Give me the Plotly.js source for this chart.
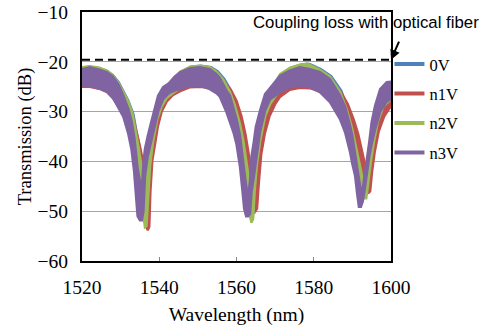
<!DOCTYPE html>
<html><head><meta charset="utf-8">
<script src="https://cdn.plot.ly/plotly-3.0.1.min.js"></script>
<style>html,body{margin:0;padding:0;background:#fff}#chart{width:490px;height:327px}</style>
</head><body><div id="chart"></div>
<script>
const seriesNames = ['0V', 'n1V', 'n2V', 'n3V'];

const wl_0V = [1520.0,1522.0,1524.5,1526.5,1528.0,1529.5,1530.7,1532.0,1533.3,1534.1,1534.9,1535.6,1536.2,1536.7,1537.0,1537.3,1537.9,1538.7,1539.8,1540.9,1542.3,1543.8,1545.7,1548.3,1550.8,1553.4,1555.1,1556.8,1558.6,1559.9,1561.2,1562.1,1562.8,1563.5,1564.2,1564.6,1565.0,1565.6,1566.4,1567.7,1569.0,1570.3,1571.6,1574.1,1576.7,1578.5,1579.3,1581.9,1584.5,1587.1,1588.8,1590.1,1591.0,1591.9,1592.7,1593.5,1594.0,1594.4,1595.1,1595.9,1596.9,1598.3,1600.0];
const hi_0V = [-21.2,-21.0,-21.3,-21.8,-22.7,-24.1,-25.8,-27.8,-30.5,-34.0,-37.0,-40.5,-43.5,-45.5,-43.5,-38.8,-34.8,-31.3,-28.3,-26.3,-24.6,-23.4,-22.0,-21.0,-20.8,-21.1,-21.9,-23.4,-25.8,-28.6,-32.3,-35.8,-39.8,-43.3,-45.5,-44.0,-38.8,-34.8,-31.3,-27.8,-25.6,-24.0,-22.5,-21.2,-20.6,-20.4,-20.6,-21.5,-22.9,-25.8,-29.3,-32.8,-35.8,-39.3,-42.3,-44.0,-43.5,-39.8,-35.8,-31.8,-28.3,-25.8,-25.0];
const lo_0V = [-24.0,-24.0,-24.4,-25.0,-26.2,-28.2,-29.7,-32.0,-35.3,-39.3,-43.3,-47.8,-51.5,-52.5,-52.3,-47.5,-40.8,-35.8,-31.3,-28.8,-27.0,-26.1,-25.1,-24.3,-24.1,-24.6,-25.3,-26.6,-28.8,-31.8,-36.3,-40.8,-45.8,-49.0,-50.3,-50.3,-45.8,-40.3,-35.8,-30.8,-28.3,-26.8,-25.6,-24.6,-24.1,-24.1,-24.3,-25.3,-27.0,-29.8,-33.3,-36.8,-39.8,-43.8,-45.5,-46.2,-46.2,-43.8,-39.8,-35.8,-31.8,-28.8,-27.5];

const wl_n1V = [1520.0,1522.0,1524.5,1526.5,1528.0,1529.5,1530.7,1532.0,1533.0,1533.7,1534.4,1535.0,1535.8,1536.6,1537.0,1537.4,1537.7,1538.2,1538.9,1539.6,1540.6,1541.9,1543.5,1545.4,1548.0,1550.5,1553.1,1555.0,1556.8,1558.5,1560.0,1561.3,1562.3,1563.2,1564.0,1564.8,1565.3,1565.8,1566.4,1567.3,1568.5,1570.0,1571.3,1573.8,1576.4,1579.0,1581.6,1584.2,1586.8,1588.8,1590.3,1591.5,1592.6,1593.5,1594.1,1594.6,1595.1,1595.8,1596.8,1598.2,1600.0];
const hi_n1V = [-22.8,-22.8,-23.0,-23.5,-24.3,-25.5,-26.8,-28.5,-30.5,-32.5,-35.0,-37.0,-40.0,-44.0,-46.5,-45.5,-40.0,-36.0,-33.0,-30.5,-28.0,-26.5,-25.0,-23.8,-23.0,-22.8,-22.8,-23.2,-24.0,-25.6,-27.8,-31.0,-34.5,-38.5,-42.5,-44.5,-42.0,-38.0,-34.5,-31.0,-28.0,-25.8,-24.5,-23.2,-22.6,-22.6,-23.0,-24.0,-25.8,-28.5,-31.5,-34.5,-38.0,-41.5,-43.5,-42.0,-38.0,-34.5,-31.0,-28.8,-27.2];
const lo_n1V = [-25.0,-25.0,-25.4,-26.1,-27.3,-29.0,-30.8,-33.5,-36.5,-39.0,-42.0,-45.0,-49.0,-53.0,-53.8,-53.1,-46.0,-39.8,-36.5,-33.1,-30.0,-28.0,-26.7,-25.9,-25.1,-25.0,-25.2,-25.8,-27.0,-28.8,-31.5,-35.0,-39.5,-44.0,-48.0,-50.1,-49.5,-44.0,-38.5,-34.5,-31.0,-28.5,-27.0,-25.6,-25.2,-25.3,-26.0,-27.5,-29.5,-32.5,-35.5,-38.5,-42.0,-45.0,-46.4,-46.0,-42.0,-38.0,-34.0,-31.0,-28.8];

const wl_n2V = [1520.0,1522.0,1524.5,1526.5,1528.0,1529.5,1530.7,1532.0,1533.1,1533.9,1534.6,1535.3,1535.9,1536.3,1536.7,1537.0,1537.6,1538.4,1539.5,1540.6,1542.0,1543.5,1545.4,1548.0,1550.5,1553.1,1554.8,1556.5,1558.3,1559.6,1560.9,1561.8,1562.5,1563.2,1563.9,1564.3,1564.7,1565.3,1566.1,1567.4,1568.7,1570.0,1571.3,1573.8,1576.4,1578.2,1579.0,1581.6,1584.2,1586.8,1588.5,1589.8,1590.7,1591.6,1592.4,1593.1,1593.6,1594.1,1594.8,1595.6,1596.6,1598.0,1600.0];
const hi_n2V = [-21.1,-20.9,-21.2,-21.8,-22.8,-24.3,-26.0,-28.0,-30.5,-34.0,-37.0,-40.5,-43.5,-46.0,-44.0,-39.0,-35.0,-31.5,-28.5,-26.5,-24.8,-23.5,-22.0,-21.0,-20.8,-21.1,-22.0,-23.5,-26.0,-28.8,-32.5,-36.0,-40.0,-43.5,-46.0,-44.0,-39.0,-35.0,-31.5,-28.0,-25.8,-24.2,-22.5,-21.2,-20.6,-20.4,-20.6,-21.6,-23.0,-26.0,-29.5,-33.0,-36.0,-39.5,-42.5,-44.5,-43.5,-40.0,-36.0,-32.0,-28.5,-26.0,-25.5];
const lo_n2V = [-24.0,-24.0,-24.5,-25.2,-26.5,-28.5,-30.0,-32.5,-35.5,-39.5,-43.5,-48.0,-52.0,-53.2,-53.0,-48.0,-41.0,-36.0,-31.5,-29.0,-27.2,-26.3,-25.3,-24.5,-24.3,-24.8,-25.5,-26.8,-29.0,-32.0,-36.5,-41.0,-46.0,-50.0,-52.3,-51.5,-46.0,-40.5,-36.0,-31.0,-28.5,-27.0,-25.8,-24.8,-24.3,-24.3,-24.5,-25.5,-27.2,-30.0,-33.5,-37.0,-40.0,-44.0,-46.5,-47.4,-47.4,-44.0,-40.0,-36.0,-32.0,-29.0,-27.5];

const wl_n3V = [1520.0,1522.0,1524.5,1526.5,1528.0,1529.5,1530.7,1532.0,1532.8,1533.5,1534.0,1534.4,1535.0,1535.5,1535.9,1536.3,1537.0,1537.8,1538.6,1539.7,1541.0,1542.5,1544.0,1545.4,1548.0,1550.5,1553.1,1554.8,1555.7,1557.4,1558.3,1559.2,1560.0,1560.9,1561.5,1562.0,1562.5,1563.0,1563.5,1563.9,1564.5,1565.0,1566.1,1567.4,1568.7,1570.0,1571.3,1573.8,1576.4,1579.0,1581.6,1584.2,1586.8,1588.1,1588.8,1589.4,1590.0,1590.7,1591.3,1591.7,1592.2,1592.7,1593.3,1593.9,1594.4,1595.0,1595.9,1597.2,1598.9,1600.0];
const hi_n3V = [-21.5,-21.1,-21.6,-22.1,-23.0,-24.7,-26.8,-29.5,-31.8,-35.0,-38.5,-41.5,-44.0,-45.5,-40.5,-37.5,-35.0,-32.5,-29.8,-26.8,-25.1,-24.3,-23.0,-22.1,-21.3,-21.1,-21.5,-22.5,-23.3,-25.8,-26.8,-29.0,-31.5,-34.8,-38.0,-41.5,-45.0,-47.0,-44.0,-39.0,-36.0,-33.1,-29.8,-26.5,-25.1,-24.0,-22.8,-21.8,-21.1,-21.5,-22.1,-23.5,-26.8,-29.0,-31.0,-32.8,-35.0,-38.1,-41.5,-43.5,-46.0,-45.5,-41.5,-38.8,-36.0,-32.1,-28.8,-25.5,-24.1,-24.0];
const lo_n3V = [-24.7,-24.8,-25.4,-26.0,-27.2,-29.3,-31.0,-34.5,-37.5,-42.0,-47.0,-51.0,-51.8,-51.8,-50.0,-43.0,-39.0,-36.5,-33.5,-30.0,-27.5,-26.3,-25.8,-25.5,-24.8,-24.8,-25.5,-26.3,-27.0,-30.1,-32.0,-34.1,-36.5,-41.0,-45.5,-49.5,-51.0,-51.0,-50.5,-46.0,-43.0,-39.8,-34.0,-29.8,-27.5,-26.8,-26.1,-25.1,-24.8,-25.1,-26.1,-28.1,-31.5,-34.1,-36.0,-38.1,-40.5,-42.8,-46.8,-49.1,-49.1,-48.0,-45.0,-41.5,-38.8,-36.5,-33.5,-30.0,-28.0,-27.5];

const couplingLoss = -19.6;
const couplingLabel = 'Coupling loss with optical fiber';
const xTickVals = [1520, 1540, 1560, 1580, 1600];
const yTickVals = [-60, -50, -40, -30, -20, -10];
const yTickText = ['\u221260', '\u221250', '\u221240', '\u221230', '\u221220', '\u221210'];
const xTitle = 'Wavelength (nm)';
const yTitle = 'Transmission (dB)';

// ---- styling ----
const colors = ['#4F81BD', '#C0504D', '#9BBB59', '#8064A2'];
const serif = 'Times New Roman';
const sans = 'Arial';

const bands = [
  [wl_0V, hi_0V, lo_0V],
  [wl_n1V, hi_n1V, lo_n1V],
  [wl_n2V, hi_n2V, lo_n2V],
  [wl_n3V, hi_n3V, lo_n3V]
];

const traces = [];
bands.forEach(function (b, i) {
  const wl = b[0], hi = b[1], lo = b[2];
  traces.push({
    x: wl.concat(wl.slice().reverse()),
    y: lo.concat(hi.slice().reverse()),
    type: 'scatter', mode: 'lines', fill: 'toself',
    fillcolor: colors[i],
    line: {color: colors[i], width: 2.5},
    hoverinfo: 'skip', showlegend: false
  });
});
// dashed coupling-loss level
traces.push({
  x: [xTickVals[0], xTickVals[xTickVals.length - 1]],
  y: [couplingLoss, couplingLoss],
  type: 'scatter', mode: 'lines',
  line: {color: '#000', width: 2, dash: '8px,5px'},
  showlegend: false, hoverinfo: 'skip'
});
// legend entries
seriesNames.forEach(function (n, i) {
  traces.push({
    x: [null], y: [null], type: 'scatter', mode: 'lines', name: n,
    legendgroup: n,
    line: {color: colors[i], width: 4}
  });
});

const layout = {
  width: 490, height: 327,
  margin: {l: 82, r: 99, t: 12, b: 66},
  paper_bgcolor: '#fff', plot_bgcolor: '#fff',
  font: {family: serif, color: '#000'},
  showlegend: true,
  legend: {
    x: 0.995, xanchor: 'left', y: 0.86, yanchor: 'top',
    font: {family: serif, size: 16.5, color: '#000'},
    traceorder: 'grouped', tracegroupgap: 5,
    bgcolor: 'rgba(0,0,0,0)', itemwidth: 30
  },
  xaxis: {
    range: [xTickVals[0], xTickVals[xTickVals.length - 1]],
    tickvals: xTickVals,
    ticks: 'inside', ticklen: 4, tickcolor: '#888', tickwidth: 1,
    showline: true, linecolor: '#000', linewidth: 2, mirror: true,
    showgrid: false, zeroline: false,
    tickfont: {family: serif, size: 19.5, color: '#000'},
    ticklabelstandoff: 8,
    title: {text: xTitle, font: {family: serif, size: 19.5, color: '#000'}, standoff: 10},
    automargin: false
  },
  yaxis: {
    range: [yTickVals[0], yTickVals[yTickVals.length - 1]],
    tickvals: yTickVals, ticktext: yTickText,
    ticks: '', showline: true, linecolor: '#000', linewidth: 2, mirror: true,
    showgrid: true, gridcolor: '#a6a6a6', gridwidth: 1, zeroline: false,
    tickfont: {family: serif, size: 19.5, color: '#000'},
    ticklabelstandoff: 8,
    title: {text: yTitle, font: {family: serif, size: 18.5, color: '#000'}, standoff: 1},
    automargin: false
  },
  annotations: [
    {
      xref: 'x', yref: 'y', x: xTickVals[xTickVals.length - 1], y: couplingLoss,
      text: ' ', showarrow: true, arrowhead: 2, arrowsize: 1, arrowwidth: 2,
      arrowcolor: '#000', axref: 'pixel', ayref: 'pixel', ax: 11, ay: -25
    },
    {
      xref: 'paper', yref: 'paper', x: (366 - 82) / 309, y: (261 - 22) / 249,
      xanchor: 'center', yanchor: 'middle',
      text: couplingLabel, showarrow: false,
      font: {family: sans, size: 16.8, color: '#000'}
    }
  ]
};

Plotly.newPlot('chart', traces, layout, {displayModeBar: false, staticPlot: true});
</script>
</body></html>
